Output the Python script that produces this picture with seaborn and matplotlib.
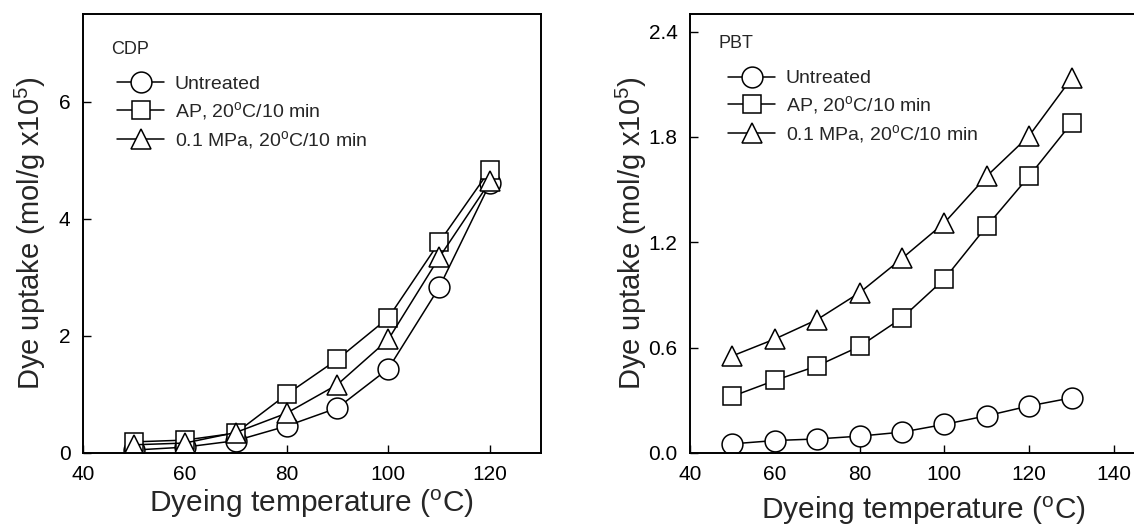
import matplotlib
matplotlib.use("Agg")
import matplotlib.pyplot as plt
from matplotlib.lines import Line2D
import seaborn as sns
import pandas as pd

# ---------------- data ----------------
series_names = ["Untreated", "AP, 20$^{o}$C/10 min", "0.1 MPa, 20$^{o}$C/10 min"]

cdp_temp = [50, 60, 70, 80, 90, 100, 110, 120]
cdp_untreated = [0.05, 0.10, 0.21, 0.46, 0.77, 1.44, 2.83, 4.61]
cdp_ap = [0.19, 0.22, 0.34, 1.00, 1.60, 2.31, 3.60, 4.84]
cdp_mpa = [0.14, 0.17, 0.35, 0.68, 1.17, 1.94, 3.34, 4.64]

pbt_temp = [50, 60, 70, 80, 90, 100, 110, 120, 130]
pbt_untreated = [0.052, 0.071, 0.080, 0.096, 0.119, 0.163, 0.212, 0.268, 0.314]
pbt_ap = [0.323, 0.413, 0.496, 0.607, 0.769, 0.991, 1.292, 1.577, 1.879]
pbt_mpa = [0.553, 0.649, 0.760, 0.913, 1.108, 1.311, 1.577, 1.807, 2.134]

cdp_yticks = [0, 2, 4, 6]
pbt_yticks = [0.0, 0.6, 1.2, 1.8, 2.4]
cdp_xticks = [40, 60, 80, 100, 120]
pbt_xticks = [40, 60, 80, 100, 120, 140]

markers = {series_names[0]: "o", series_names[1]: "s", series_names[2]: "^"}
msizes = {"o": 15, "s": 13.5, "^": 15}


def long_frame(temp, values):
    rows = []
    for name, vals in zip(series_names, values):
        for t, v in zip(temp, vals):
            rows.append({"temp": t, "uptake": v, "series": name})
    return pd.DataFrame(rows)


df_cdp = long_frame(cdp_temp, [cdp_untreated, cdp_ap, cdp_mpa])
df_pbt = long_frame(pbt_temp, [pbt_untreated, pbt_ap, pbt_mpa])

# ---------------- style ----------------
sns.set_theme(style="ticks")
plt.rcParams["font.family"] = ["Liberation Sans", "DejaVu Sans"]
plt.rcParams["mathtext.fontset"] = "custom"
plt.rcParams["mathtext.rm"] = "Liberation Sans"
plt.rcParams["mathtext.it"] = "Liberation Sans"
plt.rcParams["mathtext.default"] = "regular"

W, H = 1134, 528
fig = plt.figure(figsize=(W / 100, H / 100), dpi=100)
fig.patch.set_facecolor("white")

AX_TOP, AX_BOT = 14, 453
ax1 = fig.add_axes([83 / W, (H - AX_BOT) / H, (541 - 83) / W, (AX_BOT - AX_TOP) / H])
ax2 = fig.add_axes([690 / W, (H - AX_BOT) / H, (1156.4 - 690) / W, (AX_BOT - AX_TOP) / H])


def draw(ax, df, xlim, ylim, xticks, yticks, yfmt, tag, tag_y, legend_anchor,
         ylab_x, xlab_y):
    palette = {n: "black" for n in series_names}
    sns.lineplot(data=df, x="temp", y="uptake", hue="series", style="series",
                 markers=markers, dashes=False, palette=palette, ax=ax,
                 legend=False, linewidth=1.1, markersize=14,
                 markerfacecolor="white", markeredgecolor="black",
                 markeredgewidth=1.1)
    for line in ax.get_lines():
        m = line.get_marker()
        if m in msizes:
            line.set_markersize(msizes[m])
    ax.set_xlim(*xlim)
    ax.set_ylim(*ylim)
    ax.set_xticks(xticks)
    ax.set_yticks(yticks)
    ax.set_yticklabels([yfmt.format(v) for v in yticks])
    ax.tick_params(direction="in", length=6, width=1.0, labelsize=15,
                   colors="black", top=False, right=False)
    ax.tick_params(axis="x", pad=9)
    ax.tick_params(axis="y", pad=9)
    for s in ax.spines.values():
        s.set_linewidth(1.4)
        s.set_color("black")
        s.set_visible(True)
    ax.set_xlabel("Dyeing temperature ($^{o}$C)", fontsize=21.5)
    ax.set_ylabel("Dye uptake (mol/g x10$^{5}$)", fontsize=21)
    pos = ax.get_position()
    w_px = pos.width * W
    h_px = pos.height * H
    ax.yaxis.set_label_coords(ylab_x / w_px, 0.5)
    ax.yaxis.label.set_verticalalignment("center")
    ax.xaxis.set_label_coords(0.5, -xlab_y / h_px)
    ax.xaxis.label.set_verticalalignment("center")
    ax.text(0.062, tag_y, tag, transform=ax.transAxes, fontsize=13,
            ha="left", va="center")
    handles = [Line2D([], [], color="black", linewidth=1.1, marker=markers[n],
                      markersize=msizes[markers[n]], markerfacecolor="white",
                      markeredgecolor="black", markeredgewidth=1.1)
               for n in series_names]
    ax.legend(handles, series_names, loc="upper left",
              bbox_to_anchor=legend_anchor, frameon=False, fontsize=14,
              handlelength=2.4, handletextpad=0.55, labelspacing=0.36,
              borderpad=0, borderaxespad=0)


# ylab_x: px offset of y-label centre from axes left; xlab_y: px below axes bottom
draw(ax1, df_cdp, (40, 130), (0, 7.5), cdp_xticks, cdp_yticks, "{:.0f}", "CDP",
     0.918, (0.075, 0.86), -53, 51)
draw(ax2, df_pbt, (40, 150), (0, 2.5), pbt_xticks, pbt_yticks, "{:.1f}", "PBT",
     0.932, (0.082, 0.873), -59, 58)

fig.savefig("out.png", dpi=100, facecolor="white")
